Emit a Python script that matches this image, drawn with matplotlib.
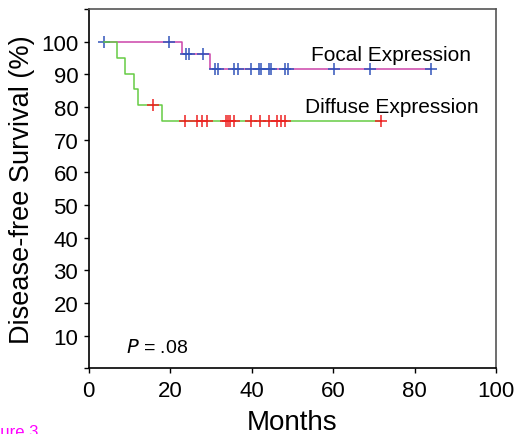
import matplotlib.pyplot as plt

plt.rcParams['font.family'] = ['Liberation Sans', 'DejaVu Sans']

# Kaplan-Meier steps (months, % survival)
focal_t = [3.8, 23.0, 29.8, 84.0]
focal_s = [100, 96.1, 91.6, 91.6]
focal_cens_t = [3.8, 19.7, 23.9, 24.6, 28.1, 30.9, 31.8, 35.7, 36.6, 39.8,
                41.9, 42.3, 44.3, 44.8, 48.2, 49.0, 60.2, 69.1, 84.0]
focal_cens_s = [100, 100, 96.1, 96.1, 96.1] + [91.6] * 14

diffuse_t = [3.8, 6.9, 8.9, 11.0, 12.0, 18.1, 71.8]
diffuse_s = [100, 95.0, 90.1, 85.5, 80.7, 75.6, 75.6]
diffuse_cens_t = [15.9, 23.7, 26.7, 27.9, 29.0, 33.6, 34.2, 34.7, 35.7,
                  39.8, 42.1, 44.2, 46.2, 47.1, 48.1, 71.8]
diffuse_cens_s = [80.7] + [75.6] * 15

xticks = [0, 20, 40, 60, 80, 100]
yticks = [0, 10, 20, 30, 40, 50, 60, 70, 80, 90, 100, 110]
ylabels = ['', '10', '20', '30', '40', '50', '60', '70', '80', '90', '100', '']

fig = plt.figure(figsize=(5.16, 4.35), dpi=100)
ax = fig.add_axes([0.1719, 0.151, 0.7893, 0.826])

ax.step(focal_t, focal_s, where='post', color='#cc44aa', linewidth=1.1)
ax.plot(focal_cens_t, focal_cens_s, '+', color='#3355bb', markersize=8, markeredgewidth=1.1)
ax.step(diffuse_t, diffuse_s, where='post', color='#66cc44', linewidth=1.1)
ax.plot(diffuse_cens_t, diffuse_cens_s, '+', color='#ee2222', markersize=8, markeredgewidth=1.1)

ax.text(74.2, 96.0, 'Focal Expression', ha='center', va='center', fontsize=15)
ax.text(74.4, 80.0, 'Diffuse Expression', ha='center', va='center', fontsize=15)
ax.text(9.2, 6.4, '$P$ = .08', ha='left', va='center', fontsize=14)

ax.set_xlim(0, 100)
ax.set_ylim(0, 110)
ax.set_xticks(xticks)
ax.set_yticks(yticks)
ax.set_yticklabels(ylabels)
ax.tick_params(axis='both', direction='out', length=3.5, width=1, labelsize=16, pad=4)
ax.tick_params(axis='x', pad=5)
ax.set_xlabel('Months', fontsize=20, labelpad=6)
ax.set_ylabel('Disease-free Survival (%)', fontsize=19.5, labelpad=4)

for s in ['left', 'bottom']:
    ax.spines[s].set_color('black')
    ax.spines[s].set_linewidth(1.2)
for s in ['top', 'right']:
    ax.spines[s].set_color('#555555')
    ax.spines[s].set_linewidth(1.2)

fig.text(38 / 516, 1 - 425 / 435, 'Figure 3', color='#ff00ff', fontsize=12,
         ha='right', va='top')

fig.savefig('out.png', dpi=100)
